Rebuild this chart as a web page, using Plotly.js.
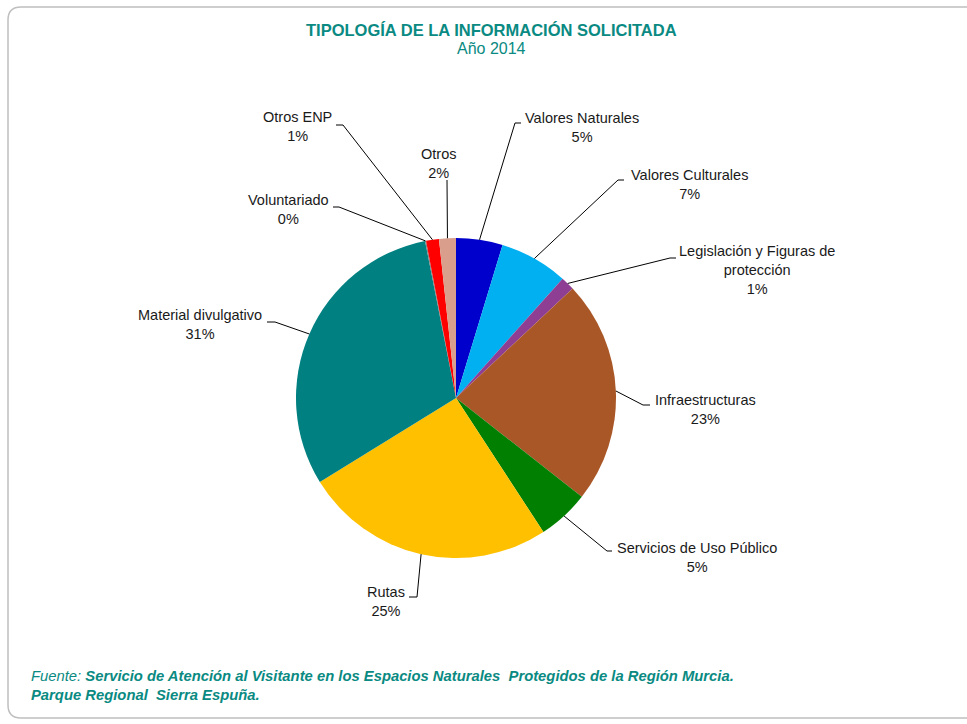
<!DOCTYPE html>
<html>
<head>
<meta charset="utf-8">
<script src="https://cdn.plot.ly/plotly-3.0.1.min.js"></script>
<style>html,body{margin:0;padding:0;background:#fff;}#chart{width:967px;height:724px;}</style>
</head>
<body>
<div id="chart"></div>
<script>
// ---- data ----
const categories = ['Valores Naturales','Valores Culturales','Legislación y Figuras de protección','Infraestructuras','Servicios de Uso Público','Rutas','Material divulgativo','Voluntariado','Otros ENP','Otros'];
const labelLines = ['Valores Naturales','Valores Culturales','Legislación y Figuras de<br>protección','Infraestructuras','Servicios de Uso Público','Rutas','Material divulgativo','Voluntariado','Otros ENP','Otros'];
const values = [4.7, 6.9, 1.4, 22.6, 5.2, 25.4, 30.7, 0.1, 1.3, 1.7];
const titleText = 'TIPOLOGÍA DE LA INFORMACIÓN SOLICITADA';
const subtitleText = 'Año 2014';

// ---- styles / layout positions (pixels) ----
const colors = ['#0000CC','#00B0F0','#8E3F93','#AA5727','#007F00','#FFC000','#008080','#7F7F7F','#FF0000','#D99F8C'];
const W = 967, H = 724;
const cx = 456, cy = 398, R = 160;
const labelCenter = [[582,127],[689,184.5],[757,270.5],[705,409.5],[697,557],[386,601],[200,324.5],[288,209.5],[297,126.5],[438,163]];
const elbow1 = [[515,123],[618,180],[670,258],[643,405],[607,551],[417,597],[275,322],[339,207],[343,125],[447,180]];
const elbow2 = [[521,123],[624,180],[676,258],[650,405],[612,551],[409,597],[267,322],[333,207],[336,125],[447,180]];
const teal = '#0A8A82';
const FONT = 'Liberation Sans, Arial, sans-serif';

const px = x => x / W;
const py = y => 1 - y / H;

const total = values.reduce((a,b)=>a+b,0);
let cum = 0;
const shapes = [];
const annotations = [];
values.forEach((v,i) => {
  const mid = (cum + v/2) / total * 2 * Math.PI;
  cum += v;
  const ex = cx + R * Math.sin(mid), ey = cy - R * Math.cos(mid);
  const [x1,y1] = elbow1[i], [x2,y2] = elbow2[i];
  shapes.push({type:'path', xref:'paper', yref:'paper',
    path:`M ${px(ex)},${py(ey)} L ${px(x1)},${py(y1)} L ${px(x2)},${py(y2)}`,
    line:{color:'#000000', width:1}});
  const pct = Math.round(v/total*100) + '%';
  annotations.push({xref:'paper', yref:'paper', x:px(labelCenter[i][0]), y:py(labelCenter[i][1]),
    xanchor:'center', yanchor:'middle', showarrow:false, align:'center',
    text: labelLines[i] + '<br>' + pct,
    font:{family:FONT, size:14.5, color:'#1a1a1a'}});
});

// border with rounded corner
shapes.push({type:'path', xref:'paper', yref:'paper', layer:'below',
  path:`M ${px(990)},${py(7)} L ${px(21)},${py(7)} Q ${px(8)},${py(7)} ${px(8)},${py(20)} L ${px(8)},${py(705)} Q ${px(8)},${py(718)} ${px(21)},${py(718)} L ${px(990)},${py(718)}`,
  line:{color:'#BFBFBF', width:1.5}});

// title & subtitle
annotations.push({xref:'paper', yref:'paper', x:px(491), y:py(30), xanchor:'center', yanchor:'middle',
  showarrow:false, text:'<b>'+titleText+'</b>', font:{family:FONT, size:16.5, color:teal}});
annotations.push({xref:'paper', yref:'paper', x:px(491), y:py(48), xanchor:'center', yanchor:'middle',
  showarrow:false, text:subtitleText, font:{family:FONT, size:16, color:teal}});

// source note
annotations.push({xref:'paper', yref:'paper', x:px(29), y:py(685), xanchor:'left', yanchor:'middle',
  showarrow:false, align:'left',
  text:'<i>Fuente: </i><b><i>Servicio de Atención al Visitante en los Espacios Naturales  Protegidos de la Región Murcia.</i></b><br><b><i>Parque Regional  Sierra Espuña.</i></b>',
  font:{family:FONT, size:14.8, color:teal}});

const trace = {
  type:'pie', labels:categories, values:values, sort:false, direction:'clockwise', rotation:0,
  marker:{colors:colors, line:{width:0}},
  textinfo:'none', hoverinfo:'label+percent',
  domain:{x:[px(cx-R), px(cx+R)], y:[py(cy+R), py(cy-R)]},
  showlegend:false
};

const layout = {
  width:W, height:H, margin:{l:0,r:0,t:0,b:0},
  paper_bgcolor:'#ffffff',
  shapes:shapes, annotations:annotations, showlegend:false
};

Plotly.newPlot('chart', [trace], layout, {displayModeBar:false, staticPlot:true});
</script>
</body>
</html>
